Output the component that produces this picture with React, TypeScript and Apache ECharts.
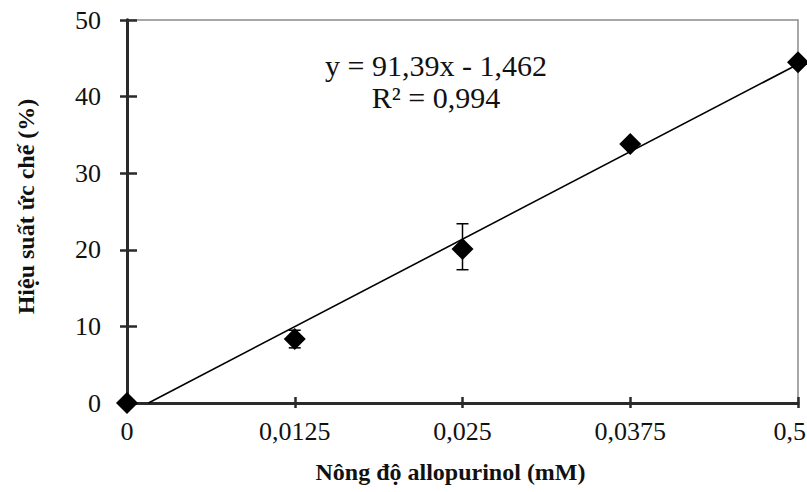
import React, { useEffect, useRef } from "react";
import * as echarts from "echarts";

const xValues = [0, 0.125, 0.25, 0.375, 0.5];
const xTickLabels = ["0", "0,0125", "0,025", "0,0375", "0,5"];
const yValues = [0, 8.35, 20.1, 33.8, 44.5];
const errLow = [0, 7.2, 17.4, 33.8, 44.5];
const errHigh = [0, 9.5, 23.4, 33.8, 44.5];
const trendX = [0.016, 0.5];
const trendY = [0, 44.23];
const equationText = "y = 91,39x - 1,462";
const r2Text = "R² = 0,994";
const xTitle = "Nông độ allopurinol (mM)";
const yTitle = "Hiệu suất ức chế (%)";

const FONT = "'Liberation Serif', 'Times New Roman', serif";

export default function App() {
  const ref = useRef<HTMLDivElement>(null);
  useEffect(() => {
    if (!ref.current) return;
    const chart = echarts.init(ref.current, null, { renderer: "svg", width: 807, height: 492 });
    const axisLine = { show: true, lineStyle: { color: "#2a2a2a", width: 2.8 } };
    const gridBox = {
      left: 127,
      right: 9,
      top: 20,
      bottom: 89,
      containLabel: false,
      outerBoundsMode: "none",
    };
    const baseX = {
      type: "value",
      min: 0,
      max: 0.5,
      interval: 0.125,
      position: "bottom",
      axisLine,
      splitLine: { show: false },
    };
    const baseY = {
      type: "value",
      min: 0,
      max: 50,
      interval: 10,
      position: "left",
      axisLine,
      splitLine: { show: false },
    };
    const tickStyle = { color: "#2a2a2a", width: 2.5 };
    const lastIdx = xTickLabels.length - 1;
    chart.setOption({
      animation: false,
      backgroundColor: "#fff",
      grid: [
        { ...gridBox, show: true, borderColor: "#8a8a8a", borderWidth: 1.5 },
        { ...gridBox, show: false },
      ],
      xAxis: [
        {
          ...baseX,
          gridIndex: 0,
          axisTick: { show: true, inside: false, length: 5, lineStyle: tickStyle },
          axisLabel: {
            margin: 15,
            fontFamily: FONT,
            fontSize: 26,
            color: "#111",
            alignMaxLabel: "right",
            formatter: (v: number) => {
              const i = Math.round(v / 0.125);
              const t = xTickLabels[i] ?? "";
              return i === lastIdx ? `{last|${t}}` : t;
            },
            rich: {
              last: {
                fontFamily: FONT,
                fontSize: 26,
                color: "#111",
                padding: [0, -8, 0, 0],
              },
            },
          },
          name: xTitle,
          nameLocation: "middle",
          nameGap: 57,
          nameTextStyle: {
            fontFamily: FONT,
            fontSize: 24,
            fontWeight: "bold",
            color: "#111",
            padding: [0, 24, 0, 0],
          },
        },
        {
          ...baseX,
          gridIndex: 1,
          axisTick: { show: true, inside: true, length: 6, lineStyle: tickStyle },
          axisLabel: { show: false },
        },
      ],
      yAxis: [
        {
          ...baseY,
          gridIndex: 0,
          axisTick: { show: true, inside: false, length: 7, lineStyle: tickStyle },
          axisLabel: { margin: 26, fontFamily: FONT, fontSize: 26, color: "#111" },
          name: yTitle,
          nameLocation: "middle",
          nameGap: 89,
          nameRotate: 90,
          nameTextStyle: {
            fontFamily: FONT,
            fontSize: 24,
            fontWeight: "bold",
            color: "#111",
            padding: [0, 0, 0, 10],
          },
        },
        {
          ...baseY,
          gridIndex: 1,
          axisTick: { show: true, inside: true, length: 10, lineStyle: tickStyle },
          axisLabel: { show: false },
        },
      ],
      graphic: [
        {
          type: "text",
          x: 436,
          y: 65,
          style: {
            text: equationText,
            font: `30px ${FONT}`,
            fill: "#111",
            align: "center",
            verticalAlign: "middle",
          },
        },
        {
          type: "text",
          x: 436,
          y: 97,
          style: {
            text: r2Text,
            font: `30px ${FONT}`,
            fill: "#111",
            align: "center",
            verticalAlign: "middle",
          },
        },
      ],
      series: [
        {
          type: "line",
          data: trendX.map((x, i) => [x, trendY[i]]),
          symbol: "none",
          lineStyle: { color: "#000", width: 1.6 },
          z: 3,
          silent: true,
        },
        {
          type: "custom",
          data: xValues.map((x, i) => [x, errLow[i], errHigh[i]]),
          renderItem: (params: any, api: any) => {
            const x = api.value(0);
            const lo = api.coord([x, api.value(1)]);
            const hi = api.coord([x, api.value(2)]);
            const hw = 6;
            const style = { stroke: "#000", lineWidth: 1.5 };
            return {
              type: "group",
              children: [
                { type: "line", shape: { x1: lo[0], y1: lo[1], x2: hi[0], y2: hi[1] }, style },
                { type: "line", shape: { x1: lo[0] - hw, y1: lo[1], x2: lo[0] + hw, y2: lo[1] }, style },
                { type: "line", shape: { x1: hi[0] - hw, y1: hi[1], x2: hi[0] + hw, y2: hi[1] }, style },
              ],
            };
          },
          clip: false,
          z: 4,
          silent: true,
        },
        {
          type: "scatter",
          data: xValues.map((x, i) => [x, yValues[i]]),
          symbol: "diamond",
          symbolSize: 22,
          itemStyle: { color: "#000", opacity: 1 },
          clip: false,
          z: 5,
          silent: true,
        },
      ],
    });
    return () => chart.dispose();
  }, []);
  return (
    <div
      ref={ref}
      style={{ position: "fixed", left: 0, top: 0, width: 807, height: 492 }}
    />
  );
}
